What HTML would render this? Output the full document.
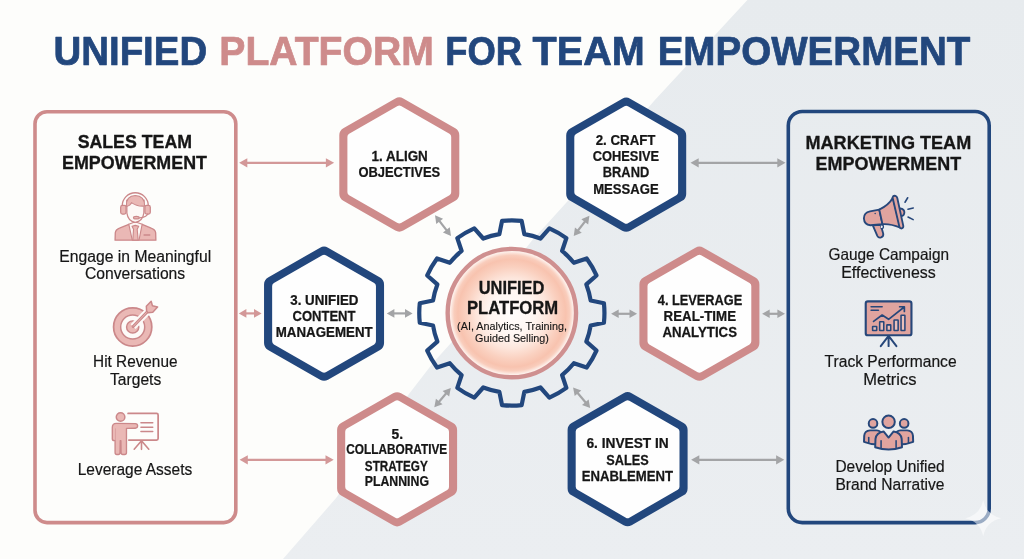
<!DOCTYPE html>
<html lang="en"><head><meta charset="utf-8"><title>Unified Platform for Team Empowerment</title>
<style>
html,body{margin:0;padding:0;background:#fdfdfb;}
body{width:1024px;height:559px;overflow:hidden;font-family:"Liberation Sans",Arial,sans-serif;}
svg{display:block;will-change:transform;font-family:"Liberation Sans",Arial,sans-serif;}
</style></head><body>
<svg width="1024" height="559" viewBox="0 0 1024 559">
<defs>
<radialGradient id="core" cx="50%" cy="50%" r="50%">
<stop offset="0" stop-color="#fffdfc"/><stop offset="0.35" stop-color="#fff6f2"/><stop offset="0.55" stop-color="#fde6dc"/><stop offset="0.72" stop-color="#fad0bf"/><stop offset="0.84" stop-color="#f8c3af"/><stop offset="0.9" stop-color="#f9cdbc"/><stop offset="0.955" stop-color="#fdeee8"/><stop offset="1" stop-color="#fdeee8"/>
</radialGradient>
<linearGradient id="bgr" x1="0" y1="0" x2="0" y2="1"><stop offset="0" stop-color="#e7ebee"/><stop offset="1" stop-color="#ebeef1"/></linearGradient>
<filter id="soft" x="0" y="0" width="100%" height="100%" filterUnits="objectBoundingBox"><feGaussianBlur stdDeviation="0.32"/></filter>
</defs>
<g filter="url(#soft)">
<rect x="-5" y="-5" width="1034" height="569" fill="#fdfdfb"/>
<polygon points="752,-5 1030,-5 1030,565 277.8,565 283,559 336.3,497.8 408.6,394.4 432.9,362.9 453,340.7 532,240.5 566,203 654,101" fill="url(#bgr)"/>

<g id="title">
<text transform="translate(53.54,64.50) scale(0.9443,1)" font-size="40.68" font-weight="bold" fill="#23477d" stroke="#23477d" stroke-width="0.73" stroke-linejoin="round">UNIFIED</text>
<text transform="translate(219.31,64.50) scale(0.9622,1)" font-size="40.68" font-weight="bold" fill="#ce8b8b" stroke="#ce8b8b" stroke-width="0.73" stroke-linejoin="round">PLATFORM</text>
<text transform="translate(445.16,64.50) scale(0.8953,1)" font-size="40.68" font-weight="bold" fill="#23477d" stroke="#23477d" stroke-width="0.73" stroke-linejoin="round">FOR</text>
<text transform="translate(532.56,64.50) scale(0.9734,1)" font-size="40.68" font-weight="bold" fill="#23477d" stroke="#23477d" stroke-width="0.73" stroke-linejoin="round">TEAM</text>
<text transform="translate(657.64,64.50) scale(0.9485,1)" font-size="40.68" font-weight="bold" fill="#23477d" stroke="#23477d" stroke-width="0.73" stroke-linejoin="round">EMPOWERMENT</text>
</g>
<rect x="35" y="111.8" width="200.8" height="410.8" rx="12" fill="none" stroke="#ce8b8b" stroke-width="3.6"/>
<rect x="788.3" y="111.5" width="200.9" height="411.1" rx="14" fill="none" stroke="#23477d" stroke-width="3.6"/>
<g id="panel-text">
<text transform="translate(77.63,148.30) scale(0.9823,1)" font-size="18.08" font-weight="bold" fill="#161616" stroke="#161616" stroke-width="0.33" stroke-linejoin="round">SALES TEAM</text>
<text transform="translate(62.00,169.30) scale(0.9814,1)" font-size="18.22" font-weight="bold" fill="#161616" stroke="#161616" stroke-width="0.33" stroke-linejoin="round">EMPOWERMENT</text>
<text transform="translate(805.49,148.70) scale(1.0087,1)" font-size="17.94" font-weight="bold" fill="#161616" stroke="#161616" stroke-width="0.32" stroke-linejoin="round">MARKETING TEAM</text>
<text transform="translate(815.60,169.80) scale(0.9848,1)" font-size="18.22" font-weight="bold" fill="#161616" stroke="#161616" stroke-width="0.33" stroke-linejoin="round">EMPOWERMENT</text>
<text transform="translate(59.34,262.20) scale(0.9666,1)" font-size="16.24" font-weight="normal" fill="#161616" stroke="#161616" stroke-width="0.19" stroke-linejoin="round">Engage in Meaningful</text>
<text transform="translate(85.01,279.20) scale(0.9746,1)" font-size="16.10" font-weight="normal" fill="#161616" stroke="#161616" stroke-width="0.19" stroke-linejoin="round">Conversations</text>
<text transform="translate(93.06,367.30) scale(0.9622,1)" font-size="15.95" font-weight="normal" fill="#161616" stroke="#161616" stroke-width="0.19" stroke-linejoin="round">Hit Revenue</text>
<text transform="translate(110.08,384.90) scale(0.9778,1)" font-size="15.95" font-weight="normal" fill="#161616" stroke="#161616" stroke-width="0.19" stroke-linejoin="round">Targets</text>
<text transform="translate(77.65,475.10) scale(0.9722,1)" font-size="15.95" font-weight="normal" fill="#161616" stroke="#161616" stroke-width="0.19" stroke-linejoin="round">Leverage Assets</text>
<text transform="translate(828.42,259.80) scale(0.9830,1)" font-size="15.67" font-weight="normal" fill="#161616" stroke="#161616" stroke-width="0.19" stroke-linejoin="round">Gauge Campaign</text>
<text transform="translate(841.22,277.70) scale(0.9904,1)" font-size="16.10" font-weight="normal" fill="#161616" stroke="#161616" stroke-width="0.19" stroke-linejoin="round">Effectiveness</text>
<text transform="translate(824.58,367.30) scale(0.9783,1)" font-size="15.95" font-weight="normal" fill="#161616" stroke="#161616" stroke-width="0.19" stroke-linejoin="round">Track Performance</text>
<text transform="translate(863.28,384.90) scale(1.0356,1)" font-size="15.95" font-weight="normal" fill="#161616" stroke="#161616" stroke-width="0.19" stroke-linejoin="round">Metrics</text>
<text transform="translate(835.45,471.90) scale(0.9709,1)" font-size="15.95" font-weight="normal" fill="#161616" stroke="#161616" stroke-width="0.19" stroke-linejoin="round">Develop Unified</text>
<text transform="translate(835.45,489.50) scale(0.9765,1)" font-size="15.95" font-weight="normal" fill="#161616" stroke="#161616" stroke-width="0.19" stroke-linejoin="round">Brand Narrative</text>
</g>
<path d="M395.32,98.48 A8,8 0 0 1 403.28,98.48 L455.28,128.29 A8,8 0 0 1 459.30,135.23 L459.30,193.77 A8,8 0 0 1 455.28,200.71 L403.28,230.52 A8,8 0 0 1 395.32,230.52 L343.32,200.71 A8,8 0 0 1 339.30,193.77 L339.30,135.23 A8,8 0 0 1 343.32,128.29 Z" fill="#ce8b8b"/>
<path d="M397.56,106.00 A3.5,3.5 0 0 1 401.04,106.00 L449.44,133.79 A3.5,3.5 0 0 1 451.20,136.83 L451.20,192.17 A3.5,3.5 0 0 1 449.44,195.21 L401.04,223.00 A3.5,3.5 0 0 1 397.56,223.00 L349.16,195.21 A3.5,3.5 0 0 1 347.40,192.17 L347.40,136.83 A3.5,3.5 0 0 1 349.16,133.79 Z" fill="#fefefe"/>
<text transform="translate(371.45,160.80) scale(0.9543,1)" font-size="14.12" font-weight="bold" fill="#161616" stroke="#161616" stroke-width="0.25" stroke-linejoin="round">1. ALIGN</text>
<text transform="translate(358.40,176.80) scale(0.9157,1)" font-size="14.12" font-weight="bold" fill="#161616" stroke="#161616" stroke-width="0.25" stroke-linejoin="round">OBJECTIVES</text>
<path d="M622.22,98.63 A8,8 0 0 1 630.18,98.63 L682.18,128.44 A8,8 0 0 1 686.20,135.38 L686.20,193.92 A8,8 0 0 1 682.18,200.86 L630.18,230.67 A8,8 0 0 1 622.22,230.67 L570.22,200.86 A8,8 0 0 1 566.20,193.92 L566.20,135.38 A8,8 0 0 1 570.22,128.44 Z" fill="#23477d"/>
<path d="M624.46,106.15 A3.5,3.5 0 0 1 627.94,106.15 L676.34,133.94 A3.5,3.5 0 0 1 678.10,136.98 L678.10,192.32 A3.5,3.5 0 0 1 676.34,195.36 L627.94,223.15 A3.5,3.5 0 0 1 624.46,223.15 L576.06,195.36 A3.5,3.5 0 0 1 574.30,192.32 L574.30,136.98 A3.5,3.5 0 0 1 576.06,133.94 Z" fill="#fefefe"/>
<text transform="translate(595.75,145.10) scale(0.9402,1)" font-size="14.12" font-weight="bold" fill="#161616" stroke="#161616" stroke-width="0.25" stroke-linejoin="round">2. CRAFT</text>
<text transform="translate(592.80,161.20) scale(0.9093,1)" font-size="14.12" font-weight="bold" fill="#161616" stroke="#161616" stroke-width="0.25" stroke-linejoin="round">COHESIVE</text>
<text transform="translate(602.78,177.30) scale(0.9104,1)" font-size="14.12" font-weight="bold" fill="#161616" stroke="#161616" stroke-width="0.25" stroke-linejoin="round">BRAND</text>
<text transform="translate(593.17,193.50) scale(0.9285,1)" font-size="14.12" font-weight="bold" fill="#161616" stroke="#161616" stroke-width="0.25" stroke-linejoin="round">MESSAGE</text>
<path d="M320.07,247.68 A8,8 0 0 1 328.03,247.68 L380.03,277.49 A8,8 0 0 1 384.05,284.43 L384.05,342.97 A8,8 0 0 1 380.03,349.91 L328.03,379.72 A8,8 0 0 1 320.07,379.72 L268.07,349.91 A8,8 0 0 1 264.05,342.97 L264.05,284.43 A8,8 0 0 1 268.07,277.49 Z" fill="#23477d"/>
<path d="M322.31,255.20 A3.5,3.5 0 0 1 325.79,255.20 L374.19,282.99 A3.5,3.5 0 0 1 375.95,286.03 L375.95,341.37 A3.5,3.5 0 0 1 374.19,344.41 L325.79,372.20 A3.5,3.5 0 0 1 322.31,372.20 L273.91,344.41 A3.5,3.5 0 0 1 272.15,341.37 L272.15,286.03 A3.5,3.5 0 0 1 273.91,282.99 Z" fill="#fefefe"/>
<text transform="translate(290.29,304.70) scale(0.9453,1)" font-size="14.12" font-weight="bold" fill="#161616" stroke="#161616" stroke-width="0.25" stroke-linejoin="round">3. UNIFIED</text>
<text transform="translate(292.50,320.80) scale(0.9237,1)" font-size="14.12" font-weight="bold" fill="#161616" stroke="#161616" stroke-width="0.25" stroke-linejoin="round">CONTENT</text>
<text transform="translate(275.75,337.00) scale(0.9436,1)" font-size="14.12" font-weight="bold" fill="#161616" stroke="#161616" stroke-width="0.25" stroke-linejoin="round">MANAGEMENT</text>
<path d="M695.42,247.68 A8,8 0 0 1 703.38,247.68 L755.38,277.49 A8,8 0 0 1 759.40,284.43 L759.40,342.97 A8,8 0 0 1 755.38,349.91 L703.38,379.72 A8,8 0 0 1 695.42,379.72 L643.42,349.91 A8,8 0 0 1 639.40,342.97 L639.40,284.43 A8,8 0 0 1 643.42,277.49 Z" fill="#ce8b8b"/>
<path d="M697.66,255.20 A3.5,3.5 0 0 1 701.14,255.20 L749.54,282.99 A3.5,3.5 0 0 1 751.30,286.03 L751.30,341.37 A3.5,3.5 0 0 1 749.54,344.41 L701.14,372.20 A3.5,3.5 0 0 1 697.66,372.20 L649.26,344.41 A3.5,3.5 0 0 1 647.50,341.37 L647.50,286.03 A3.5,3.5 0 0 1 649.26,282.99 Z" fill="#fefefe"/>
<text transform="translate(657.82,304.70) scale(0.9052,1)" font-size="14.12" font-weight="bold" fill="#161616" stroke="#161616" stroke-width="0.25" stroke-linejoin="round">4. LEVERAGE</text>
<text transform="translate(663.55,320.80) scale(0.9435,1)" font-size="14.12" font-weight="bold" fill="#161616" stroke="#161616" stroke-width="0.25" stroke-linejoin="round">REAL-TIME</text>
<text transform="translate(662.39,337.00) scale(0.9388,1)" font-size="14.12" font-weight="bold" fill="#161616" stroke="#161616" stroke-width="0.25" stroke-linejoin="round">ANALYTICS</text>
<path d="M393.12,393.28 A8,8 0 0 1 401.08,393.28 L453.08,423.09 A8,8 0 0 1 457.10,430.03 L457.10,488.57 A8,8 0 0 1 453.08,495.51 L401.08,525.32 A8,8 0 0 1 393.12,525.32 L341.12,495.51 A8,8 0 0 1 337.10,488.57 L337.10,430.03 A8,8 0 0 1 341.12,423.09 Z" fill="#ce8b8b"/>
<path d="M395.36,400.80 A3.5,3.5 0 0 1 398.84,400.80 L447.24,428.59 A3.5,3.5 0 0 1 449.00,431.63 L449.00,486.97 A3.5,3.5 0 0 1 447.24,490.01 L398.84,517.80 A3.5,3.5 0 0 1 395.36,517.80 L346.96,490.01 A3.5,3.5 0 0 1 345.20,486.97 L345.20,431.63 A3.5,3.5 0 0 1 346.96,428.59 Z" fill="#fefefe"/>
<text transform="translate(391.51,438.60) scale(0.9778,1)" font-size="14.12" font-weight="bold" fill="#161616" stroke="#161616" stroke-width="0.25" stroke-linejoin="round">5.</text>
<text transform="translate(346.33,454.40) scale(0.8376,1)" font-size="14.12" font-weight="bold" fill="#161616" stroke="#161616" stroke-width="0.25" stroke-linejoin="round">COLLABORATIVE</text>
<text transform="translate(364.85,470.60) scale(0.8295,1)" font-size="14.12" font-weight="bold" fill="#161616" stroke="#161616" stroke-width="0.25" stroke-linejoin="round">STRATEGY</text>
<text transform="translate(364.71,486.30) scale(0.8724,1)" font-size="14.12" font-weight="bold" fill="#161616" stroke="#161616" stroke-width="0.25" stroke-linejoin="round">PLANNING</text>
<path d="M623.62,393.13 A8,8 0 0 1 631.58,393.13 L683.58,422.94 A8,8 0 0 1 687.60,429.88 L687.60,488.42 A8,8 0 0 1 683.58,495.36 L631.58,525.17 A8,8 0 0 1 623.62,525.17 L571.62,495.36 A8,8 0 0 1 567.60,488.42 L567.60,429.88 A8,8 0 0 1 571.62,422.94 Z" fill="#23477d"/>
<path d="M625.86,400.65 A3.5,3.5 0 0 1 629.34,400.65 L677.74,428.44 A3.5,3.5 0 0 1 679.50,431.48 L679.50,486.82 A3.5,3.5 0 0 1 677.74,489.86 L629.34,517.65 A3.5,3.5 0 0 1 625.86,517.65 L577.46,489.86 A3.5,3.5 0 0 1 575.70,486.82 L575.70,431.48 A3.5,3.5 0 0 1 577.46,428.44 Z" fill="#fefefe"/>
<text transform="translate(586.44,448.40) scale(0.9726,1)" font-size="14.12" font-weight="bold" fill="#161616" stroke="#161616" stroke-width="0.25" stroke-linejoin="round">6. INVEST IN</text>
<text transform="translate(606.33,464.70) scale(0.9014,1)" font-size="14.12" font-weight="bold" fill="#161616" stroke="#161616" stroke-width="0.25" stroke-linejoin="round">SALES</text>
<text transform="translate(581.76,480.80) scale(0.9313,1)" font-size="14.12" font-weight="bold" fill="#161616" stroke="#161616" stroke-width="0.25" stroke-linejoin="round">ENABLEMENT</text>
<path d="M499.37,234.18 L502.05,220.92 A92.6,92.6 0 0 1 521.65,220.92 L524.33,234.18 A79.8,79.8 0 0 1 540.45,238.50 L549.40,228.36 A92.6,92.6 0 0 1 566.38,238.16 L562.07,250.98 A79.8,79.8 0 0 1 573.87,262.78 L586.69,258.47 A92.6,92.6 0 0 1 596.49,275.45 L586.35,284.40 A79.8,79.8 0 0 1 590.67,300.52 L603.93,303.20 A92.6,92.6 0 0 1 603.93,322.80 L590.67,325.48 A79.8,79.8 0 0 1 586.35,341.60 L596.49,350.55 A92.6,92.6 0 0 1 586.69,367.53 L573.87,363.22 A79.8,79.8 0 0 1 562.07,375.02 L566.38,387.84 A92.6,92.6 0 0 1 549.40,397.64 L540.45,387.50 A79.8,79.8 0 0 1 524.33,391.82 L521.65,405.08 A92.6,92.6 0 0 1 502.05,405.08 L499.37,391.82 A79.8,79.8 0 0 1 483.25,387.50 L474.30,397.64 A92.6,92.6 0 0 1 457.32,387.84 L461.63,375.02 A79.8,79.8 0 0 1 449.83,363.22 L437.01,367.53 A92.6,92.6 0 0 1 427.21,350.55 L437.35,341.60 A79.8,79.8 0 0 1 433.03,325.48 L419.77,322.80 A92.6,92.6 0 0 1 419.77,303.20 L433.03,300.52 A79.8,79.8 0 0 1 437.35,284.40 L427.21,275.45 A92.6,92.6 0 0 1 437.01,258.47 L449.83,262.78 A79.8,79.8 0 0 1 461.63,250.98 L457.32,238.16 A92.6,92.6 0 0 1 474.30,228.36 L483.25,238.50 A79.8,79.8 0 0 1 499.37,234.18 Z" fill="none" stroke="#23477d" stroke-width="4.2" stroke-linejoin="round"/>
<circle cx="511.85" cy="313.1" r="64.2" fill="url(#core)" stroke="#cf9090" stroke-width="4.4"/>
<text transform="translate(478.66,294.30) scale(0.9021,1)" font-size="18.22" font-weight="bold" fill="#161616" stroke="#161616" stroke-width="0.33" stroke-linejoin="round">UNIFIED</text>
<text transform="translate(466.97,314.00) scale(0.9140,1)" font-size="18.22" font-weight="bold" fill="#161616" stroke="#161616" stroke-width="0.33" stroke-linejoin="round">PLATFORM</text>
<text transform="translate(457.12,329.70) scale(0.9377,1)" font-size="11.54" font-weight="normal" fill="#161616" stroke="#161616" stroke-width="0.14" stroke-linejoin="round">(AI, Analytics, Training,</text>
<text transform="translate(475.12,341.90) scale(0.9365,1)" font-size="11.54" font-weight="normal" fill="#161616" stroke="#161616" stroke-width="0.14" stroke-linejoin="round">Guided Selling)</text>
<line x1="245.66" y1="162.85" x2="327.54" y2="162.85" stroke="#d39898" stroke-width="2.2"/><polygon points="239.10,162.85 247.30,167.55 247.30,158.15" fill="#d39898"/><polygon points="334.10,162.85 325.90,167.55 325.90,158.15" fill="#d39898"/>
<line x1="697.06" y1="162.85" x2="778.94" y2="162.85" stroke="#a3a4a6" stroke-width="2.2"/><polygon points="690.50,162.85 698.70,167.55 698.70,158.15" fill="#a3a4a6"/><polygon points="785.50,162.85 777.30,167.55 777.30,158.15" fill="#a3a4a6"/>
<line x1="244.88" y1="313.40" x2="255.52" y2="313.40" stroke="#d39898" stroke-width="2.2"/><polygon points="238.80,313.40 246.40,317.70 246.40,309.10" fill="#d39898"/><polygon points="261.60,313.40 254.00,317.70 254.00,309.10" fill="#d39898"/>
<line x1="392.88" y1="313.40" x2="406.52" y2="313.40" stroke="#a3a4a6" stroke-width="2.2"/><polygon points="386.80,313.40 394.40,317.70 394.40,309.10" fill="#a3a4a6"/><polygon points="412.60,313.40 405.00,317.70 405.00,309.10" fill="#a3a4a6"/>
<line x1="617.18" y1="313.80" x2="631.02" y2="313.80" stroke="#a3a4a6" stroke-width="2.2"/><polygon points="611.10,313.80 618.70,318.10 618.70,309.50" fill="#a3a4a6"/><polygon points="637.10,313.80 629.50,318.10 629.50,309.50" fill="#a3a4a6"/>
<line x1="768.18" y1="313.80" x2="778.92" y2="313.80" stroke="#a3a4a6" stroke-width="2.2"/><polygon points="762.10,313.80 769.70,318.10 769.70,309.50" fill="#a3a4a6"/><polygon points="785.00,313.80 777.40,318.10 777.40,309.50" fill="#a3a4a6"/>
<line x1="246.16" y1="459.85" x2="327.14" y2="459.85" stroke="#d39898" stroke-width="2.2"/><polygon points="239.60,459.85 247.80,464.55 247.80,455.15" fill="#d39898"/><polygon points="333.70,459.85 325.50,464.55 325.50,455.15" fill="#d39898"/>
<line x1="697.66" y1="459.85" x2="777.74" y2="459.85" stroke="#a3a4a6" stroke-width="2.2"/><polygon points="691.10,459.85 699.30,464.55 699.30,455.15" fill="#a3a4a6"/><polygon points="784.30,459.85 776.10,464.55 776.10,455.15" fill="#a3a4a6"/>
<line x1="438.72" y1="220.11" x2="447.28" y2="231.19" stroke="#a3a4a6" stroke-width="2.2"/><polygon points="435.00,215.30 436.25,223.94 443.05,218.68" fill="#a3a4a6"/><polygon points="451.00,236.00 442.95,232.62 449.75,227.36" fill="#a3a4a6"/>
<line x1="585.68" y1="220.61" x2="577.42" y2="231.29" stroke="#a3a4a6" stroke-width="2.2"/><polygon points="589.40,215.80 581.35,219.18 588.15,224.44" fill="#a3a4a6"/><polygon points="573.70,236.10 574.95,227.46 581.75,232.72" fill="#a3a4a6"/>
<line x1="438.24" y1="402.67" x2="446.86" y2="392.53" stroke="#a3a4a6" stroke-width="2.2"/><polygon points="434.30,407.30 442.50,404.30 435.95,398.72" fill="#a3a4a6"/><polygon points="450.80,387.90 449.15,396.48 442.60,390.90" fill="#a3a4a6"/>
<line x1="576.99" y1="392.17" x2="586.31" y2="403.33" stroke="#a3a4a6" stroke-width="2.2"/><polygon points="573.10,387.50 574.67,396.09 581.27,390.58" fill="#a3a4a6"/><polygon points="590.20,408.00 582.03,404.92 588.63,399.41" fill="#a3a4a6"/>
<g transform="translate(105,185) scale(0.10733)" stroke-linecap="round" stroke-linejoin="round">
<path d="M94,514 L96,445 Q100,415 135,402 L222,366 L282,420 L346,366 L430,402 Q468,415 472,445 L474,514 Z" fill="#eab8b5" stroke="#cb888a" stroke-width="12.6"/>
<path d="M222,366 L254,514 L317,514 L346,366 L300,350 L264,350 Z" fill="#fdf7f5" stroke="#cb888a" stroke-width="10.3"/>
<path d="M252,384 L282,376 L314,384 L300,412 L309,512 L259,512 L266,412 Z" fill="#eab8b5" stroke="#cb888a" stroke-width="10.3"/>
<line x1="364" y1="466" x2="417" y2="466" stroke="#cb888a" stroke-width="12.6"/>
<path d="M203,140 L204,262 Q215,340 282,347 Q350,340 362,262 L364,140 Z" fill="#fdf8f6" stroke="#cb888a" stroke-width="11.5"/>
<path d="M198,196 Q198,100 282,98 Q368,100 370,196 C335,200 285,192 247,164 Q236,192 200,200 Z" fill="#eab8b5" stroke="#cb888a" stroke-width="10.3"/>
<path d="M160,196 A122,124 0 0 1 404,196" fill="none" stroke="#cb888a" stroke-width="12.6"/>
<rect x="146" y="190" width="50" height="82" rx="17" fill="#eab8b5" stroke="#cb888a" stroke-width="11.5"/>
<rect x="372" y="190" width="50" height="82" rx="17" fill="#eab8b5" stroke="#cb888a" stroke-width="11.5"/>
<path d="M398,270 Q388,300 322,306" fill="none" stroke="#cb888a" stroke-width="10.3"/>
<ellipse cx="292" cy="304" rx="27" ry="12" fill="#eab8b5" stroke="#cb888a" stroke-width="10.3"/>
</g>
<g transform="translate(105,295) scale(0.10733)" stroke-linecap="round" stroke-linejoin="round">
<circle cx="258" cy="298" r="178" fill="#eab8b5" stroke="#cb888a" stroke-width="16.1"/>
<circle cx="258" cy="298" r="112" fill="#fdfaf8" stroke="#cb888a" stroke-width="13.8"/>
<circle cx="258" cy="298" r="57" fill="#eab8b5" stroke="#cb888a" stroke-width="13.8"/>
<line x1="262" y1="294" x2="415" y2="135" stroke="#fdfaf8" stroke-width="64.4" stroke-linecap="butt"/>
<line x1="262" y1="294" x2="415" y2="135" stroke="#cb888a" stroke-width="27.6"/>
<line x1="266" y1="290" x2="408" y2="142" stroke="#eab8b5" stroke-width="9.2"/>
<path d="M388,150 L385,105 L430,58 L442,100 L490,112 L445,160 L400,165 Z" fill="#eab8b5" stroke="#cb888a" stroke-width="13.8"/>
</g>
<g transform="translate(105,403) scale(0.10733)" stroke-linecap="round" stroke-linejoin="round">
<path d="M215,97 L480,97 Q495,97 495,112 L495,330 Q495,345 480,345 L222,345" fill="none" stroke="#cb888a" stroke-width="16.1"/>
<line x1="335" y1="185" x2="445" y2="185" stroke="#cb888a" stroke-width="13.8"/>
<line x1="335" y1="225" x2="445" y2="225" stroke="#cb888a" stroke-width="13.8"/>
<line x1="335" y1="265" x2="445" y2="265" stroke="#cb888a" stroke-width="13.8"/>
<path d="M272,430 L340,352 L408,430 M340,352 L340,432" fill="none" stroke="#cb888a" stroke-width="14.9"/>
<circle cx="145" cy="130" r="40" fill="#eab8b5" stroke="#cb888a" stroke-width="13.8"/>
<path d="M68,335 L68,228 Q68,190 106,190 L282,192 Q304,194 304,213 Q304,234 282,235 L200,237 L200,462 Q200,480 184,480 L166,480 Q150,480 150,462 L148,352 L142,352 L140,462 Q140,480 124,480 L110,480 Q94,480 94,462 L94,352 Q68,352 68,335 Z" fill="#eab8b5" stroke="#cb888a" stroke-width="12.6"/>
<line x1="98" y1="240" x2="98" y2="345" stroke="#cb888a" stroke-width="6.9" opacity="0.6"/>
</g>
<g transform="translate(858,187) scale(0.10733)" stroke-linecap="round" stroke-linejoin="round">
<path d="M138,358 L180,455 Q192,478 215,470 Q240,460 235,435 L212,352 Z" fill="#e0a49f" stroke="#27477a" stroke-width="17.2"/>
<path d="M212,352 Q240,350 236,375 Q232,392 216,388" fill="#f4f4f6" stroke="#27477a" stroke-width="13.2"/>
<path d="M198,210 L112,228 Q55,240 55,292 Q58,350 115,356 L228,346 Z" fill="#e0a49f" stroke="#27477a" stroke-width="17.2"/>
<path d="M198,210 Q285,170 325,100 L395,378 Q300,340 228,346 Z" fill="#e0a49f" stroke="#27477a" stroke-width="17.2"/>
<path d="M392,200 Q435,205 432,240 Q428,272 405,270" fill="#e0a49f" stroke="#27477a" stroke-width="17.2"/>
<path d="M322,98 Q328,78 348,82 Q362,86 366,102 L422,362 Q424,382 408,386 Q392,388 386,372 Z" fill="#e0a49f" stroke="#27477a" stroke-width="17.2"/>
<circle cx="160" cy="246" r="7" fill="#27477a"/>
<line x1="438" y1="142" x2="463" y2="100" stroke="#27477a" stroke-width="14.5"/>
<line x1="466" y1="207" x2="515" y2="196" stroke="#27477a" stroke-width="14.5"/>
<line x1="466" y1="280" x2="514" y2="304" stroke="#27477a" stroke-width="14.5"/>
</g>
<g transform="translate(858,293) scale(0.10733)" stroke-linecap="round" stroke-linejoin="round">
<path d="M212,495 L285,400 L358,495 M285,400 L285,495" fill="none" stroke="#27477a" stroke-width="18.5"/>
<rect x="72" y="78" width="426" height="316" rx="20" fill="#e0a49f" stroke="#27477a" stroke-width="19.8"/>
<line x1="122" y1="128" x2="225" y2="128" stroke="#27477a" stroke-width="14.5"/>
<line x1="122" y1="160" x2="190" y2="160" stroke="#27477a" stroke-width="14.5"/>
<rect x="136" y="312" width="38" height="38" rx="3" fill="#eabfba" stroke="#27477a" stroke-width="14.5"/>
<rect x="202" y="267" width="38" height="83" rx="3" fill="#eabfba" stroke="#27477a" stroke-width="14.5"/>
<rect x="269" y="297" width="36" height="53" rx="3" fill="#eabfba" stroke="#27477a" stroke-width="14.5"/>
<rect x="336" y="252" width="38" height="98" rx="3" fill="#eabfba" stroke="#27477a" stroke-width="14.5"/>
<rect x="401" y="207" width="36" height="143" rx="3" fill="#eabfba" stroke="#27477a" stroke-width="14.5"/>
<path d="M145,265 L225,205 L285,245 L425,135 M388,128 L432,128 L432,172" fill="none" stroke="#27477a" stroke-width="15.8"/>
</g>
<g transform="translate(858,403) scale(0.10733)" stroke-linecap="round" stroke-linejoin="round">
<circle cx="140" cy="190" r="40" fill="#e0a49f" stroke="#27477a" stroke-width="18.5"/>
<path d="M56,362 L58,305 Q62,258 112,255 L175,255 Q215,258 222,300 L222,385 Q130,392 56,362 Z" fill="#e0a49f" stroke="#27477a" stroke-width="18.5"/>
<line x1="100" y1="322" x2="100" y2="368" stroke="#27477a" stroke-width="14.5"/>
<circle cx="430" cy="190" r="40" fill="#e0a49f" stroke="#27477a" stroke-width="18.5"/>
<path d="M514,362 L512,305 Q508,258 458,255 L395,255 Q355,258 348,300 L348,385 Q440,392 514,362 Z" fill="#e0a49f" stroke="#27477a" stroke-width="18.5"/>
<line x1="470" y1="322" x2="470" y2="368" stroke="#27477a" stroke-width="14.5"/>
<path d="M160,412 L163,335 Q170,275 238,265 L285,322 L332,265 Q400,275 407,335 L410,412 Q285,455 160,412 Z" fill="#e0a49f" stroke="#27477a" stroke-width="18.5"/>
<line x1="215" y1="352" x2="215" y2="420" stroke="#27477a" stroke-width="14.5"/>
<line x1="355" y1="352" x2="355" y2="420" stroke="#27477a" stroke-width="14.5"/>
<circle cx="285" cy="175" r="58" fill="#e0a49f" stroke="#27477a" stroke-width="18.5"/>
</g>
<path d="M983.2,500.20000000000005 Q986.35,515.0500000000001 1001.2,518.2 Q986.35,521.35 983.2,536.2 Q980.0500000000001,521.35 965.2,518.2 Q980.0500000000001,515.0500000000001 983.2,500.20000000000005 Z" fill="#ffffff" fill-opacity="0.55"/>
</g></svg></body></html>
